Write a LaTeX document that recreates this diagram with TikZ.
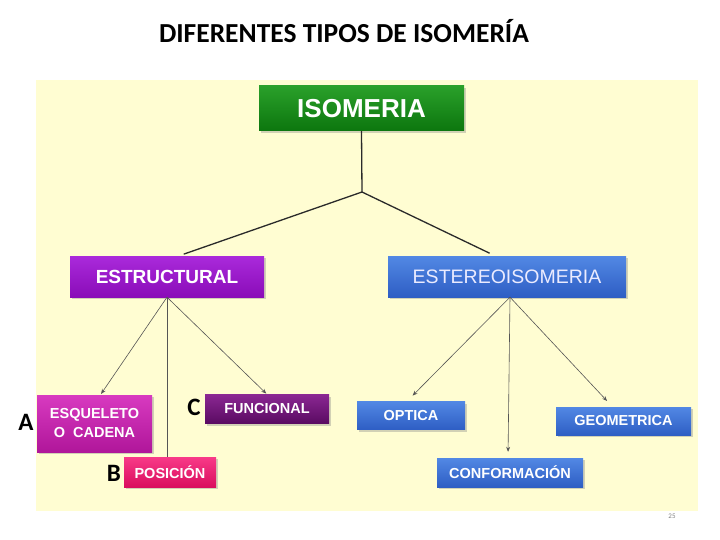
\documentclass[tikz,border=0pt]{standalone}
\usepackage{fontspec}
\setmainfont{Carlito}
\newfontfamily\boxfont{Liberation Sans}
\usetikzlibrary{arrows.meta, shadows, calc}
\definecolor{Iso_Bg}{HTML}{FFFDD2}
\definecolor{Iso_GreenT}{HTML}{2AA02A}
\definecolor{Iso_GreenB}{HTML}{0C760E}
\definecolor{Iso_PurpleT}{HTML}{AA2ADB}
\definecolor{Iso_PurpleB}{HTML}{8A0CB8}
\definecolor{Iso_BlueT}{HTML}{5288E4}
\definecolor{Iso_BlueB}{HTML}{2E5EC4}
\definecolor{Iso_MagentaT}{HTML}{D83AC0}
\definecolor{Iso_MagentaB}{HTML}{B0169A}
\definecolor{Iso_PlumT}{HTML}{8A2892}
\definecolor{Iso_PlumB}{HTML}{5A0A62}
\definecolor{Iso_PinkT}{HTML}{F83A88}
\definecolor{Iso_PinkB}{HTML}{DA0E5E}
\definecolor{Iso_Line}{HTML}{2A2A2A}

\tikzset{
    isobox/.style={rectangle, inner sep=0pt, align=center, text=white,
        font=\boxfont\bfseries,
        drop shadow={shadow xshift=1.5pt, shadow yshift=-2pt, opacity=0.35}},
    mainlink/.style={Iso_Line, line width=1.3pt},
    sublink/.style={Iso_Line!80, line width=0.6pt},
    subarrow/.style={sublink, -{Stealth[length=5pt, width=4pt]}},
    letter/.style={font=\bfseries\fontsize{25}{25}\selectfont, text=black}
}

\begin{document}
\begin{tikzpicture}[x=1pt, y=-1pt]
    \useasboundingbox (0,0) rectangle (720,540);

    % Title and background
    \node[font=\bfseries\fontsize{27.5}{27.5}\selectfont] (title) at (344,31) {DIFERENTES TIPOS DE ISOMERÍA};
    \fill[Iso_Bg] (36,80) rectangle (698,511);
    \node[font=\fontsize{7}{7}\selectfont, text=gray] (pagenum) at (672,516) {25};

    % Top level
    \node[isobox, top color=Iso_GreenT, bottom color=Iso_GreenB, minimum width=205pt, minimum height=45pt,
          font=\boxfont\bfseries\fontsize{26}{26}\selectfont] (isomeria) at (361.5,108.5) {ISOMERIA};

    % Second level
    \node[isobox, top color=Iso_PurpleT, bottom color=Iso_PurpleB, minimum width=194pt, minimum height=41pt,
          font=\boxfont\bfseries\fontsize{19}{19}\selectfont] (estructural) at (167,276.5) {ESTRUCTURAL};
    \node[isobox, top color=Iso_BlueT, bottom color=Iso_BlueB, minimum width=238pt, minimum height=41pt,
          font=\boxfont\fontsize{19.5}{19.5}\selectfont, text=white!92!blue] (estereo) at (507,276.5) {ESTEREOISOMERIA};

    % Third level
    \node[isobox, top color=Iso_MagentaT, bottom color=Iso_MagentaB, minimum width=115pt, minimum height=57pt,
          font=\boxfont\bfseries\fontsize{14.5}{19}\selectfont] (esqueleto) at (94.5,423.5) {ESQUELETO\\O\ \ CADENA};
    \node[isobox, top color=Iso_PlumT, bottom color=Iso_PlumB, minimum width=124pt, minimum height=29pt,
          font=\boxfont\bfseries\fontsize{14.5}{14.5}\selectfont] (funcional) at (267,409) {FUNCIONAL};
    \node[isobox, top color=Iso_PinkT, bottom color=Iso_PinkB, minimum width=92pt, minimum height=30pt,
          font=\boxfont\bfseries\fontsize{14.5}{14.5}\selectfont] (posicion) at (170,472) {POSICIÓN};
    \node[isobox, top color=Iso_BlueT, bottom color=Iso_BlueB, minimum width=108pt, minimum height=28pt,
          font=\boxfont\bfseries\fontsize{14.5}{14.5}\selectfont] (optica) at (411,415.5) {OPTICA};
    \node[isobox, top color=Iso_BlueT, bottom color=Iso_BlueB, minimum width=135pt, minimum height=28pt,
          font=\boxfont\bfseries\fontsize{14.5}{14.5}\selectfont] (geometrica) at (623.5,421) {GEOMETRICA};
    \node[isobox, top color=Iso_BlueT, bottom color=Iso_BlueB, minimum width=146pt, minimum height=29pt,
          font=\boxfont\bfseries\fontsize{14.5}{14.5}\selectfont] (conformacion) at (510,472.5) {CONFORMACIÓN};

    % Letters
    \node[letter] (labA) at (26,422) {A};
    \node[letter] (labB) at (114,473) {B};
    \node[letter] (labC) at (194,407) {C};

    % Links from the top box
    \coordinate (split) at (362,192);
    \draw[mainlink] (isomeria.south) -- (split);
    \draw[mainlink, shorten >=5pt] (split) -- ($(estructural.north)+(12,0)$);
    \draw[mainlink, shorten >=6pt] (split) -- ($(estereo.north)+(-12,0)$);

    % Links below ESTRUCTURAL
    \draw[subarrow, shorten >=1pt] (estructural.south) -- ($(esqueleto.north)+(6,0)$);
    \draw[subarrow, shorten >=1pt] (estructural.south) -- (funcional.north);
    \draw[sublink] (estructural.south) -- (estructural.south |- posicion.north);

    % Links below ESTEREOISOMERIA
    \draw[subarrow, shorten >=8pt] ($(estereo.south)+(3,0)$) -- ($(optica.north)+(-4,0)$);
    \draw[subarrow, shorten >=6pt] ($(estereo.south)+(3,0)$) -- ($(estereo.south |- conformacion.north)+(1,0)$);
    \draw[subarrow, shorten >=8pt] ($(estereo.south)+(3,0)$) -- ($(geometrica.north)+(-11,0)$);
\end{tikzpicture}
\end{document}
